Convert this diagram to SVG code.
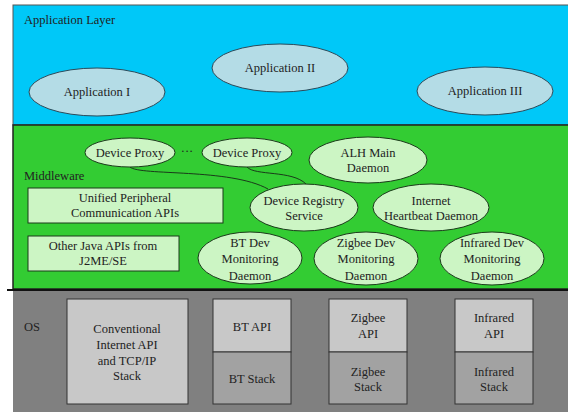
<svg xmlns="http://www.w3.org/2000/svg" width="568" height="412" viewBox="0 0 568 412">
<style>
text{font-family:"Liberation Serif","DejaVu Serif",serif;font-size:12.5px;fill:#222;text-anchor:middle}
.lbl{text-anchor:start}
.app{fill:#b4dce6;stroke:#2a4a5a;stroke-width:1}
.mw{fill:#ccf5c4;stroke:#1a3a1a;stroke-width:1}
.mwr{fill:#ccf5c4;stroke:#1a3a1a;stroke-width:1}
.api{fill:#c8c8c8;stroke:#333;stroke-width:1}
.stk{fill:#a2a2a2;stroke:#333;stroke-width:1}
.conn{fill:none;stroke:#1a3a1a;stroke-width:1}
</style>
<rect width="568" height="412" fill="#ffffff"/>
<g id="app-layer">
<rect x="13" y="5" width="556" height="120" fill="#00c8f8" stroke="#555" stroke-width="1"/>
<text class="lbl" x="24" y="24">Application Layer</text>
</g>
<g id="middleware-layer">
<rect x="13" y="125" width="556" height="164" fill="#33cc33" stroke="#222" stroke-width="1.5"/>
<text class="lbl" x="24" y="180">Middleware</text>
</g>
<g id="os-layer">
<rect x="13" y="290" width="556" height="123" fill="#808080"/>
<line x1="7" y1="290" x2="568" y2="290" stroke="#111" stroke-width="2"/>
<text class="lbl" x="24" y="331">OS</text>
</g>
<g id="connectors">
<path class="conn" d="M130 167 C140 176 230 168 268 189"/>
<path class="conn" d="M247 167 C255 176 292 170 306 184"/>
</g>
<g id="app1"><ellipse class="app" cx="97" cy="92" rx="68" ry="24"/><text x="97" y="96">Application I</text></g>
<g id="app2"><ellipse class="app" cx="280" cy="68" rx="68" ry="24"/><text x="280" y="72">Application II</text></g>
<g id="app3"><ellipse class="app" cx="485" cy="91" rx="68" ry="24"/><text x="485" y="95">Application III</text></g>
<g id="proxy1"><ellipse class="mw" cx="130" cy="152.5" rx="45" ry="14.5"/><text x="130" y="157">Device Proxy</text></g>
<g id="dots"><text x="187" y="155">···</text></g>
<g id="proxy2"><ellipse class="mw" cx="247" cy="152.5" rx="45" ry="14.5"/><text x="247" y="157">Device Proxy</text></g>
<g id="alh"><ellipse class="mw" cx="368" cy="160" rx="59" ry="23"/><text x="368" y="157">ALH Main</text><text x="368" y="172">Daemon</text></g>
<g id="registry"><ellipse class="mw" cx="304" cy="207.5" rx="54" ry="23.5"/><text x="304" y="205">Device Registry</text><text x="304" y="220">Service</text></g>
<g id="heartbeat"><ellipse class="mw" cx="431" cy="207.5" rx="58" ry="23.5"/><text x="431" y="205">Internet</text><text x="431" y="220">Heartbeat Daemon</text></g>
<g id="upca"><rect class="mwr" x="28" y="188" width="195" height="35"/><text x="125" y="202">Unified Peripheral</text><text x="125" y="217">Communication APIs</text></g>
<g id="java"><rect class="mwr" x="28" y="236" width="151" height="35"/><text x="103" y="250">Other Java APIs from</text><text x="103" y="265">J2ME/SE</text></g>
<g id="btdev"><ellipse class="mw" cx="250" cy="258" rx="52" ry="26"/><text x="250" y="247">BT Dev</text><text x="250" y="263">Monitoring</text><text x="250" y="280">Daemon</text></g>
<g id="zbdev"><ellipse class="mw" cx="366" cy="258.5" rx="52" ry="26.5"/><text x="366" y="247">Zigbee Dev</text><text x="366" y="263">Monitoring</text><text x="366" y="280">Daemon</text></g>
<g id="irdev"><ellipse class="mw" cx="492" cy="258.5" rx="52" ry="26.5"/><text x="492" y="247">Infrared Dev</text><text x="492" y="263">Monitoring</text><text x="492" y="280">Daemon</text></g>
<g id="tcpip"><rect class="api" x="67" y="299" width="121" height="105"/><text x="127" y="333">Conventional</text><text x="127" y="349">Internet API</text><text x="127" y="365">and TCP/IP</text><text x="127" y="380">Stack</text></g>
<g id="btapi"><rect class="api" x="213" y="299" width="78" height="53"/><text x="252" y="331">BT API</text></g>
<g id="btstack"><rect class="stk" x="213" y="352" width="78" height="52"/><text x="252" y="383">BT Stack</text></g>
<g id="zbapi"><rect class="api" x="329" y="299" width="78" height="53"/><text x="368" y="322">Zigbee</text><text x="368" y="338">API</text></g>
<g id="zbstack"><rect class="stk" x="329" y="352" width="78" height="52"/><text x="368" y="376">Zigbee</text><text x="368" y="391">Stack</text></g>
<g id="irapi"><rect class="api" x="455" y="299" width="78" height="53"/><text x="494" y="322">Infrared</text><text x="494" y="338">API</text></g>
<g id="irstack"><rect class="stk" x="455" y="352" width="78" height="52"/><text x="494" y="376">Infrared</text><text x="494" y="391">Stack</text></g>
</svg>
